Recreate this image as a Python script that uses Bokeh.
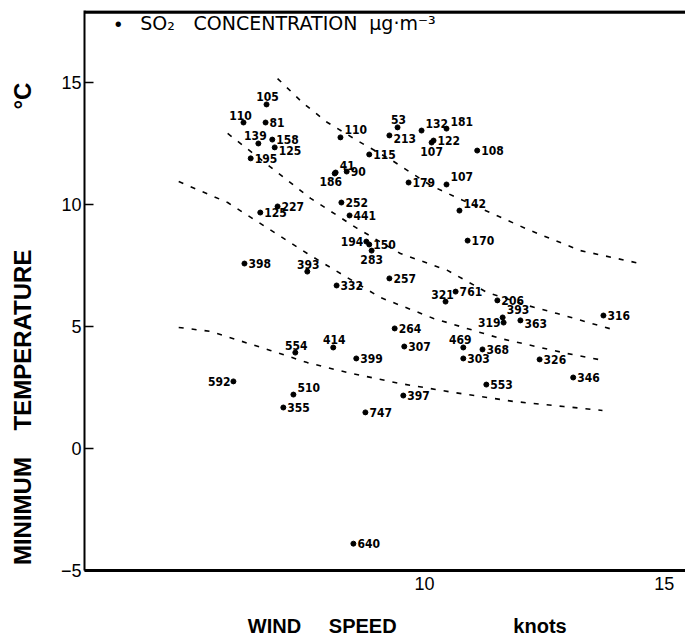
from bokeh.plotting import figure
from bokeh.models import Range1d, ColumnDataSource, Label, FixedTicker, Span
from bokeh.core.properties import value
from bokeh.embed import file_html
from bokeh.resources import INLINE

# ---- data ----
wind_speed = [6.71, 6.23, 6.69, 6.54, 6.83, 6.88, 6.38, 8.25, 8.15, 8.13,
              8.38, 8.85, 9.44, 9.27, 9.94, 10.46, 10.19, 10.15, 11.10, 9.67,
              10.46, 10.73, 8.27, 8.44, 6.94, 6.58, 10.90, 8.79, 8.85, 8.90,
              6.25, 7.56, 8.17, 9.27, 10.44, 10.65, 11.52, 11.63, 11.65, 12.00,
              13.73, 9.38, 9.58, 8.10, 7.31, 8.58, 10.81, 11.21, 10.81, 12.40,
              6.02, 7.27, 11.29, 13.10, 7.06, 9.56, 8.77, 8.52]
min_temp = [14.10, 13.36, 13.36, 12.50, 12.66, 12.34, 11.89, 12.75, 11.31, 11.27,
            11.35, 12.05, 13.16, 12.83, 13.03, 13.11, 12.62, 12.54, 12.21, 10.90,
            10.82, 9.75, 10.08, 9.55, 9.92, 9.67, 8.52, 8.48, 8.36, 8.11,
            7.58, 7.25, 6.68, 6.97, 6.02, 6.43, 6.07, 5.37, 5.16, 5.25,
            5.45, 4.92, 4.18, 4.14, 3.93, 3.69, 4.14, 4.06, 3.69, 3.65,
            2.75, 2.21, 2.62, 2.91, 1.68, 2.17, 1.48, -3.90]
so2_conc = ["105", "110", "81", "139", "158", "125", "195", "110", "41", "186",
            "90", "115", "53", "213", "132", "181", "122", "107", "108", "179",
            "107", "142", "252", "441", "227", "125", "170", "194", "150", "283",
            "398", "393", "332", "257", "321", "761", "206", "393", "319", "363",
            "316", "264", "307", "414", "554", "399", "469", "368", "303", "326",
            "592", "510", "553", "346", "355", "397", "747", "640"]

curve1_wind = [6.94, 7.48, 7.98, 8.60, 9.33, 10.13, 10.71, 11.17, 12.21, 13.25, 14.50]
curve1_temp = [15.16, 14.14, 13.36, 12.62, 11.80, 10.78, 10.25, 9.84, 8.93, 8.11, 7.58]
curve2_wind = [5.90, 7.63, 8.60, 9.50, 10.48, 11.31, 12.15, 12.77, 13.92]
curve2_temp = [12.91, 10.25, 9.02, 7.99, 7.30, 6.39, 5.86, 5.53, 4.88]
curve3_wind = [4.88, 5.90, 7.56, 9.08, 10.19, 11.58, 12.98, 13.73]
curve3_temp = [10.94, 10.08, 7.99, 6.19, 5.33, 4.51, 3.89, 3.61]
curve4_wind = [4.88, 5.54, 6.79, 7.56, 8.40, 9.50, 10.60, 11.85, 12.90, 13.71]
curve4_temp = [4.96, 4.80, 4.02, 3.52, 3.11, 2.66, 2.30, 1.93, 1.72, 1.56]

x_ticks = [10, 15]
y_ticks = [-5, 0, 5, 10, 15]

NB = "\u00a0"
x_title = NB * 8 + "WIND" + NB * 5 + "SPEED" + NB * 21 + "knots"
y_title = "MINIMUM" + NB * 4 + "TEMPERATURE" + NB * 21 + "°C" + NB * 10
legend_species = "SO₂"
legend_title = "CONCENTRATION"
legend_units = "μg·m⁻³"

# ---- label placement (style only) ----
placement = ["a", "al", "r", "al", "r", "rb", "r", "ar", "ar", "bl",
             "r", "r", "a", "rb", "ar", "ar", "r", "b", "r", "r",
             "ar", "ar", "r", "r", "r", "r", "r", "l", "r", "b",
             "r", "a", "r", "r", "al", "r", "r", "ar", "l", "rb",
             "r", "r", "r", "a", "a", "r", "al", "r", "r", "r",
             "l", "ar", "r", "r", "r", "r", "r", "r"]
style_map = {
    "r":  (4, 0, "left", "middle"),
    "rb": (4, 3, "left", "middle"),
    "a":  (1, -3, "center", "bottom"),
    "al": (-3, -3, "center", "bottom"),
    "ar": (4, -3, "left", "bottom"),
    "b":  (0, 4, "center", "top"),
    "bl": (-4, 4, "center", "top"),
    "l":  (-3, 0, "right", "middle"),
}

xo, yo, al, bl = [], [], [], []
for c in placement:
    s = style_map[c]
    xo.append(s[0]); yo.append(s[1]); al.append(s[2]); bl.append(s[3])

src = ColumnDataSource(dict(x=wind_speed, y=min_temp, t=so2_conc,
                            xo=xo, yo=yo, al=al, bl=bl))

X0, X1 = 2.917, 15.44
Y0, Y1 = -5.0, 17.95

p = figure(width=685, height=643, output_backend="svg", toolbar_location=None,
           x_range=Range1d(X0, X1), y_range=Range1d(Y0, Y1),
           min_border_left=84, min_border_right=0, min_border_top=10,
           min_border_bottom=73)
p.grid.visible = False
p.outline_line_color = None
p.background_fill_color = "white"
p.border_fill_color = "white"

FONT = "Liberation Sans, Arial, sans-serif"

p.xaxis.ticker = FixedTicker(ticks=x_ticks)
p.xaxis.axis_line_width = 3
p.xaxis.major_tick_in = 0
p.xaxis.major_tick_out = 0
p.xaxis.minor_tick_line_color = None
p.xaxis.major_label_text_font = FONT
p.xaxis.major_label_text_font_size = "18px"
p.xaxis.major_label_text_color = "black"
p.xaxis.major_label_standoff = 6
p.xaxis.axis_label = x_title
p.xaxis.axis_label_text_font = FONT
p.xaxis.axis_label_text_font_size = "20px"
p.xaxis.axis_label_text_font_style = "bold"
p.xaxis.axis_label_text_color = "black"
p.xaxis.axis_label_standoff = 22

p.yaxis.ticker = FixedTicker(ticks=y_ticks)
p.yaxis.axis_line_width = 2
p.yaxis.major_tick_in = 9
p.yaxis.major_tick_out = 0
p.yaxis.major_tick_line_width = 1.5
p.yaxis.minor_tick_line_color = None
p.yaxis.major_label_text_font = FONT
p.yaxis.major_label_text_font_size = "18px"
p.yaxis.major_label_text_color = "black"
p.yaxis.major_label_standoff = 3
p.yaxis.axis_label = y_title
p.yaxis.axis_label_text_font = FONT
p.yaxis.axis_label_text_font_size = "24px"
p.yaxis.axis_label_text_font_style = "bold"
p.yaxis.axis_label_text_color = "black"
p.yaxis.axis_label_standoff = 22

# top border line
p.add_layout(Span(location=Y1 - 0.06, dimension="width", line_color="black", line_width=3.5))

# dashed curves
for cx, cy in [(curve1_wind, curve1_temp), (curve2_wind, curve2_temp),
               (curve3_wind, curve3_temp), (curve4_wind, curve4_temp)]:
    p.line(cx, cy, line_color="black", line_width=1.6, line_dash="5 8")

# points and labels
p.scatter("x", "y", source=src, size=5, color="black")
p.text("x", "y", text="t", source=src, x_offset="xo", y_offset="yo",
       text_align="al", text_baseline="bl",
       text_font=value("Liberation Sans Narrow, DejaVu Sans Condensed, sans-serif"),
       text_font_style="bold", text_font_size="12px", text_color="black")

# legend text
LEG_FONT = "DejaVu Sans, sans-serif"
p.add_layout(Label(x=3.62, y=17.38, text="•", text_font=FONT, text_color="black",
                   text_font_size="20px", text_align="center", text_baseline="middle"))
p.add_layout(Label(x=4.08, y=17.45, text=legend_species, text_font=LEG_FONT,
                   text_color="black", text_font_size="19px", text_baseline="middle"))
p.add_layout(Label(x=5.19, y=17.45, text=legend_title, text_font=LEG_FONT,
                   text_color="black", text_font_size="19px", text_baseline="middle"))
p.add_layout(Label(x=8.85, y=17.45, text=legend_units, text_font=LEG_FONT,
                   text_color="black", text_font_size="19px", text_baseline="middle"))

open("out.html", "w").write(file_html(p, INLINE))
